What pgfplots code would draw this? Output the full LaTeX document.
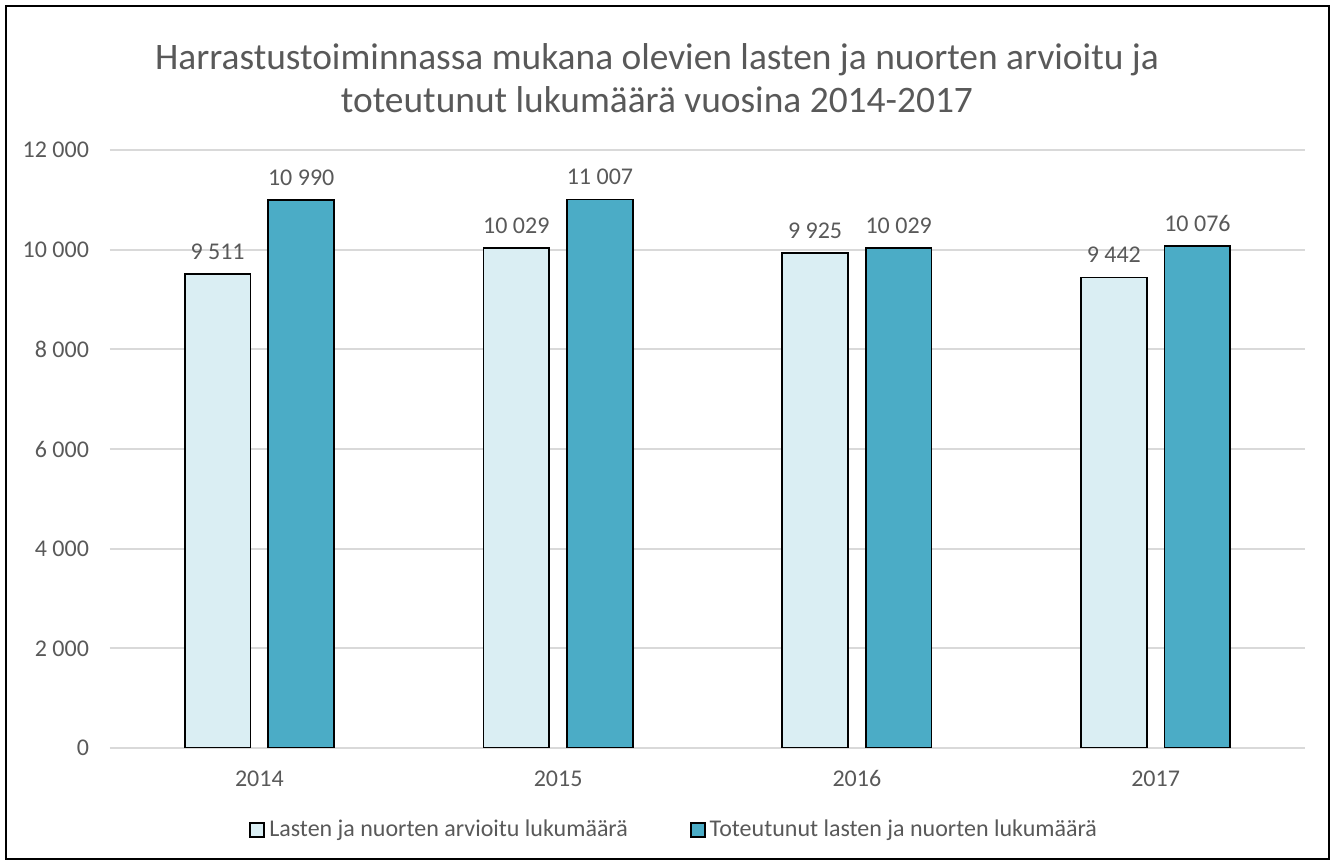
\documentclass[border=0pt]{standalone}
\usepackage{fontspec}
\setmainfont{Carlito}
\usepackage{pgfplots}
\pgfplotsset{compat=1.18}
\definecolor{txt}{HTML}{595959}
\definecolor{gridc}{HTML}{D9D9D9}
\definecolor{lb}{HTML}{DAEEF3}
\definecolor{tb}{HTML}{4BACC6}
\begin{document}
\begin{tikzpicture}
\useasboundingbox (0pt,0pt) rectangle (667.5pt,432.5pt);
\draw[black, line width=0.9pt] (3pt,3pt) rectangle (664.5pt,429.5pt);
\node[font=\fontsize{18.7}{21.5}\selectfont, text=txt, align=center] at (328.5pt,393.25pt) {Harrastustoiminnassa mukana olevien lasten ja nuorten arvioitu ja\\toteutunut lukumäärä vuosina 2014-2017};
\pgfkeys{/pgf/number format/.cd, 1000 sep={\ }, assume math mode=true}
\begin{axis}[
  at={(55pt,58.5pt)}, anchor=south west,
  scale only axis, width=597.5pt, height=299pt,
  xmin=-0.5, xmax=3.5, ymin=0, ymax=12000,
  scaled y ticks=false,
  xtick={0,1,2,3}, xticklabels={2014,2015,2016,2017},
  ytick={0,2000,4000,6000,8000,10000,12000},
  ymajorgrids, grid style={gridc, line width=0.9pt},
  axis line style={draw=none}, major tick length=0pt,
  tick label style={font=\fontsize{12}{14}\selectfont, text=txt},
  yticklabel style={xshift=-7pt},
  xticklabel style={yshift=-7pt, text height=8.5pt},
  ybar, bar width=0.22,
  nodes near coords,
  every node near coord/.append style={font=\fontsize{12}{14}\selectfont, text=txt, anchor=south, yshift=3.5pt},
  legend style={at={(0.473,-0.137)}, anchor=center, draw=none, legend columns=2,
    font=\fontsize{12}{14}\selectfont, text=txt,
    /tikz/every even column/.append style={column sep=29pt}},
  legend image code/.code={\draw[#1, line width=0.9pt] (0pt,-3.5pt) rectangle (7pt,3.5pt);},
]
\addplot[fill=lb, draw=black, line width=0.9pt, bar shift=-0.14] coordinates {(0,9511) (1,10029) (2,9925) (3,9442)};
\addplot[fill=tb, draw=black, line width=0.9pt, bar shift=0.14] coordinates {(0,10990) (1,11007) (2,10029) (3,10076)};
\legend{Lasten ja nuorten arvioitu lukumäärä, Toteutunut lasten ja nuorten lukumäärä}
\end{axis}
\end{tikzpicture}
\end{document}
